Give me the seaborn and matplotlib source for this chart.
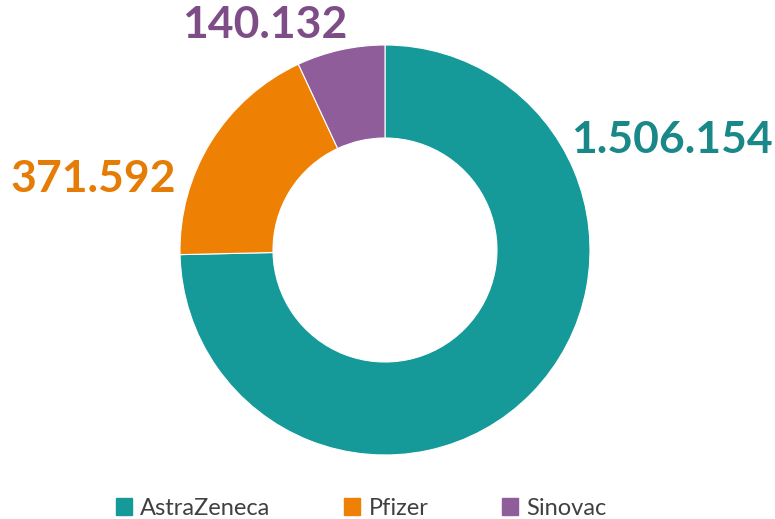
import matplotlib
matplotlib.use("Agg")
import matplotlib.pyplot as plt
import matplotlib.patches as mpatches
import seaborn as sns

vaccines = ["AstraZeneca", "Pfizer", "Sinovac"]
doses = [1506154, 371592, 140132]
labels = ["1.506.154", "371.592", "140.132"]

wedge_colors = sns.color_palette(["#169999", "#EE8104", "#8F5E9A"])
label_colors = ["#1A8888", "#E47C06", "#7E4D88"]

sns.set_theme(style="white")
plt.rcParams["font.family"] = ["Lato", "DejaVu Sans"]

fig = plt.figure(figsize=(7.75, 5.19), dpi=100)
ax = fig.add_axes([0, 0, 1, 1])

# donut, clockwise from the top
ax.pie(doses, colors=wedge_colors, startangle=90, counterclock=False,
       center=(385, 269), radius=205,
       wedgeprops=dict(width=93, edgecolor="white", linewidth=0.8))
ax.set_xlim(0, 775)
ax.set_ylim(0, 519)
ax.set_aspect("equal")
ax.axis("off")

# value labels
label_pos = [(672, 379), (93, 340), (265, 494)]
for txt, (x, y), c in zip(labels, label_pos, label_colors):
    ax.text(x, y, txt, color=c, fontsize=32, fontweight="bold",
            ha="center", va="center")

handles = [mpatches.Patch(color=c, label=v) for v, c in zip(vaccines, wedge_colors)]
fig.legend(handles=handles, loc="lower center", bbox_to_anchor=(0.466, -0.04),
           ncol=3, frameon=False, fontsize=17, labelcolor="#404040",
           handlelength=0.7, handleheight=0.7, handletextpad=0.35,
           columnspacing=3.1)

fig.savefig("out.png", dpi=100)
